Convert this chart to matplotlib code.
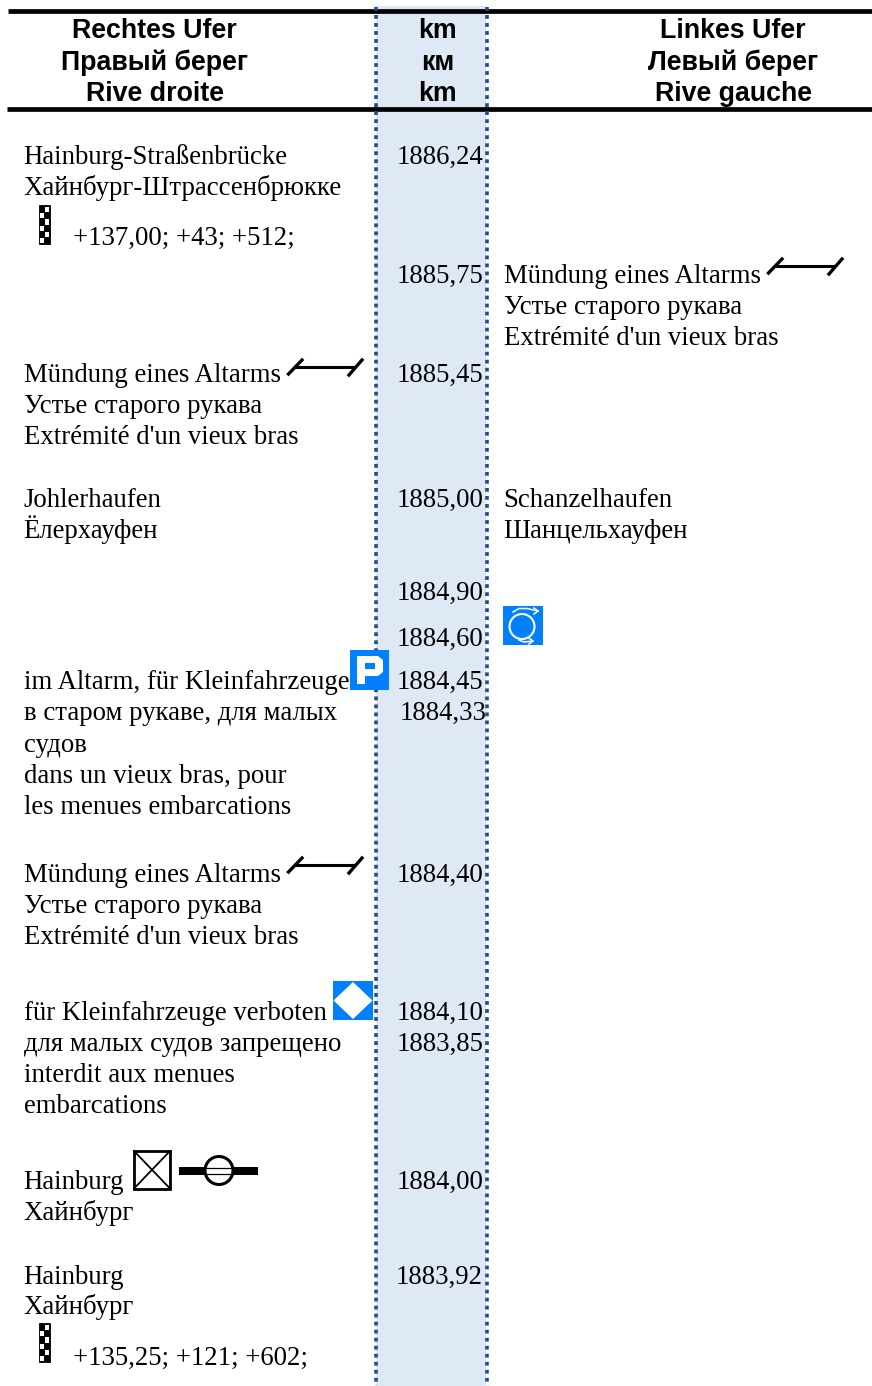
import matplotlib
matplotlib.use("Agg")
import matplotlib.pyplot as plt
from matplotlib.patches import Rectangle, Circle, Polygon

# header
head_left = ["Rechtes Ufer", "Правый берег", "Rive droite"]
head_km = ["km", "км", "km"]
head_right = ["Linkes Ufer", "Левый берег", "Rive gauche"]
head_y = [38, 70, 101]

# km column
km_values = ["1886,24", "1885,75", "1885,45", "1885,00", "1884,90", "1884,60",
             "1884,45", "1884,33", "1884,40", "1884,10", "1883,85", "1884,00",
             "1883,92"]
km_y = [164, 283, 382, 507, 600, 646, 689, 720, 882, 1020, 1051, 1189, 1284]

# left bank
left_text = ["Hainburg-Straßenbrücke", "Хайнбург-Штрассенбрюкке",
             "Mündung eines Altarms", "Устье старого рукава", "Extrémité d'un vieux bras",
             "Johlerhaufen", "Ёлерхауфен",
             "im Altarm, für Kleinfahrzeuge", "в старом рукаве, для малых", "судов",
             "dans un vieux bras, pour", "les menues embarcations",
             "Mündung eines Altarms", "Устье старого рукава", "Extrémité d'un vieux bras",
             "für Kleinfahrzeuge verboten", "для малых судов запрещено",
             "interdit aux menues", "embarcations",
             "Hainburg", "Хайнбург", "Hainburg", "Хайнбург"]
left_y = [164, 195, 382, 413, 444, 507, 538, 689, 720, 752, 783, 814,
          882, 913, 944, 1020, 1051, 1082, 1113, 1189, 1220, 1284, 1314]

# right bank
right_text = ["Mündung eines Altarms", "Устье старого рукава", "Extrémité d'un vieux bras",
              "Schanzelhaufen", "Шанцельхауфен"]
right_y = [283, 314, 345, 507, 538]

# distances next to the checker sign
gauge_text = ["+137,00; +43; +512;", "+135,25; +121; +602;"]
gauge_y = [245, 1365]

W, H = 872, 1386
fig = plt.figure(figsize=(W / 100, H / 100), dpi=100)
ax = fig.add_axes([0, 0, 1, 1])
ax.set_xlim(0, W)
ax.set_ylim(H, 0)
ax.axis("off")

SERIF = "Liberation Serif"
SANS = "Liberation Sans"
FS = 19.25
BLUE = "#0080ff"

# band + borders
ax.add_patch(Rectangle((376, 6), 110, H - 6, fc="#dfe8f5", ec="none", zorder=0))
ax.plot([8, W], [10.5, 10.5], color="k", lw=3.4, solid_capstyle="butt", zorder=2)
ax.plot([7, W], [108.5, 108.5], color="k", lw=3.4, solid_capstyle="butt", zorder=2)
for x in [375.6, 487]:
    ax.plot([x, x], [6.8, H], color="#1f4e8c", lw=2.6, ls=(0, (1.05, 1.17)), zorder=3)

# header text
for txt, y in zip(head_left, head_y):
    ax.text(154.5, y, txt, family=SANS, weight="bold", fontsize=FS, ha="center", va="baseline")
for txt, y in zip(head_km, head_y):
    ax.text(437.5, y, txt, family=SANS, weight="bold", fontsize=FS, ha="center", va="baseline")
for txt, y in zip(head_right, head_y):
    ax.text(733, y, txt, family=SANS, weight="bold", fontsize=FS, ha="center", va="baseline")

# body text
for txt, y in zip(km_values, km_y):
    xr = 486 if txt == "1884,33" else 483
    ax.text(xr, y, txt, family=SERIF, fontsize=FS, ha="right", va="baseline", zorder=4)
for txt, y in zip(left_text, left_y):
    ax.text(23.5, y, txt, family=SERIF, fontsize=FS, ha="left", va="baseline", zorder=4)
for txt, y in zip(right_text, right_y):
    ax.text(503.5, y, txt, family=SERIF, fontsize=FS, ha="left", va="baseline", zorder=4)
for txt, y in zip(gauge_text, gauge_y):
    ax.text(73, y, txt, family=SERIF, fontsize=FS, ha="left", va="baseline", zorder=4)


# signs
def checker(x, y):
    ax.add_patch(Rectangle((x, y), 11, 39, fc="k", ec="k", lw=0.6, zorder=5))
    for r in range(6):
        cx = x + (5.8 if r % 2 == 0 else 1)
        ax.add_patch(Rectangle((cx, y + 2 + r * 6.2), 4.4, 5.2, fc="w", ec="none", zorder=6))


def oxbow(x, y):
    ax.plot([x + 9, x + 66], [y + 6.5, y + 6.5], color="k", lw=2.2, zorder=5)
    ax.plot([x + 0.5, x + 14], [y + 14, y], color="k", lw=2.4, zorder=5)
    ax.plot([x + 61, x + 74], [y + 15, y], color="k", lw=2.4, zorder=5)


def blue_box(x, y, w, h):
    ax.add_patch(Rectangle((x, y), w, h, fc=BLUE, ec="none", zorder=5))


checker(39, 205)
checker(39, 1323)
oxbow(768, 259)
oxbow(288, 360)
oxbow(288, 858)

# turning sign
blue_box(503, 606, 40, 39)
ax.add_patch(Circle((522, 626.5), 12.5, fc="none", ec="w", lw=1.5, zorder=6))
ax.plot([513, 519, 527, 538], [612, 608.5, 608.5, 611], color="w", lw=1.1, zorder=6)
ax.plot([534, 538, 534], [608, 611, 614], color="w", lw=1.1, zorder=6)
ax.plot([519, 524, 533], [640, 642, 641], color="w", lw=1.1, zorder=6)
ax.plot([529, 533, 529], [638, 641, 644], color="w", lw=1.1, zorder=6)

# parking sign
blue_box(350, 650, 39, 40)
ax.add_patch(Polygon([(357, 684), (357, 656), (378, 656), (383, 660), (383, 672),
                      (378, 676), (365, 676), (365, 684)], fc="w", ec="none", zorder=6))
ax.add_patch(Rectangle((365, 663), 10, 5.5, fc=BLUE, ec="none", zorder=7))

# forbidden diamond
blue_box(333, 981, 40, 39)
ax.add_patch(Polygon([(353, 982), (372.5, 1000.5), (353, 1019), (333.5, 1000.5)], fc="w", ec="none", zorder=6))

# crossed box and cable sign
ax.add_patch(Rectangle((134, 1151), 36, 37.5, fc="none", ec="k", lw=2.0, zorder=5))
ax.plot([134, 170], [1151, 1188.5], color="k", lw=1.3, zorder=5)
ax.plot([134, 170], [1188.5, 1151], color="k", lw=1.3, zorder=5)
ax.add_patch(Rectangle((179, 1167), 79, 8, fc="k", ec="none", zorder=5))
ax.add_patch(Circle((219, 1170.5), 14, fc="w", ec="k", lw=2.2, zorder=6))
ax.plot([206, 232], [1168, 1168], color="k", lw=0.9, zorder=7)
ax.plot([206, 232], [1174, 1174], color="k", lw=0.9, zorder=7)

fig.savefig("out.png", dpi=100)
